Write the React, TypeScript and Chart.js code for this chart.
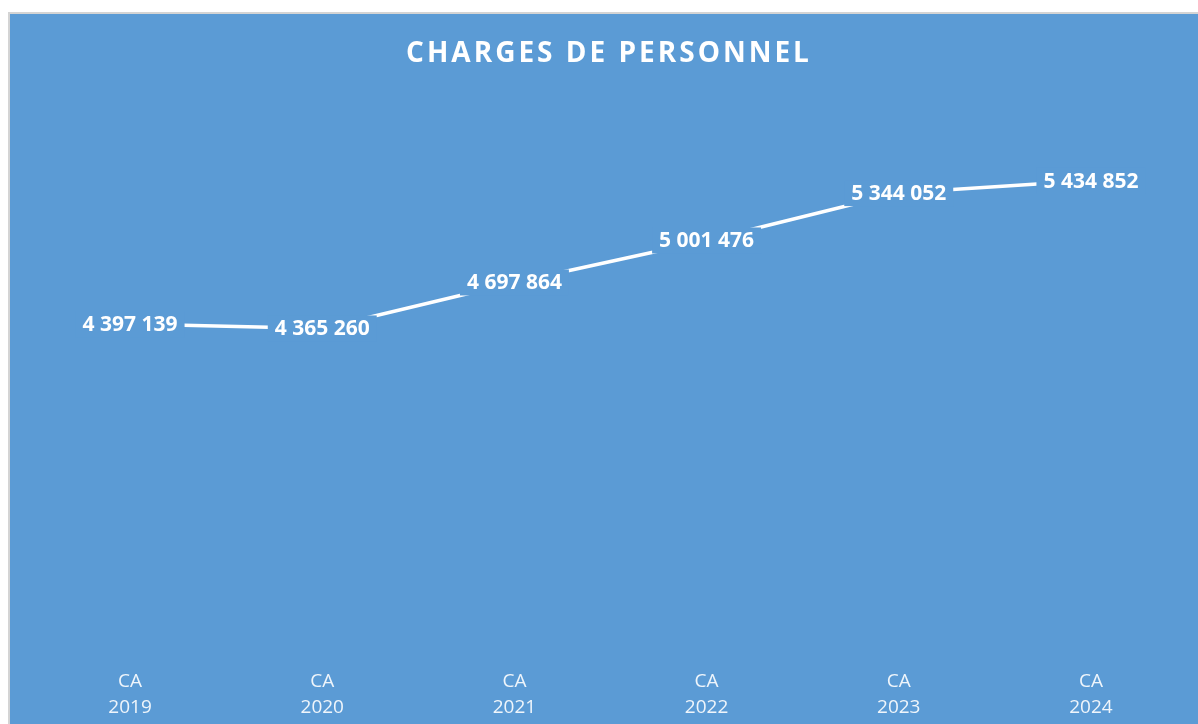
import React, { useEffect, useRef } from 'react';
import { Chart, registerables } from 'chart.js';

Chart.register(...registerables);

const TITLE = 'CHARGES DE PERSONNEL';
const categories: string[][] = [
  ['CA', '2019'],
  ['CA', '2020'],
  ['CA', '2021'],
  ['CA', '2022'],
  ['CA', '2023'],
  ['CA', '2024'],
];
const values: number[] = [4397139, 4365260, 4697864, 5001476, 5344052, 5434852];
const yMin = 2000000;
const yMax = 6000000;

const BG = '#5B9BD5';

const fmt = (v: number) => String(v).replace(/\B(?=(\d{3})+(?!\d))/g, ' ');

const overlayPlugin = {
  id: 'overlay',
  afterDatasetsDraw(chart: any) {
    const ctx = chart.ctx as CanvasRenderingContext2D;
    const meta = chart.getDatasetMeta(0);
    ctx.save();
    ctx.font = 'bold 21px "Open Sans"';
    ctx.textAlign = 'center';
    ctx.textBaseline = 'middle';
    meta.data.forEach((pt: any, i: number) => {
      const t = fmt(values[i]);
      const w = ctx.measureText(t).width;
      ctx.fillStyle = BG;
      ctx.fillRect(pt.x - w / 2 - 7, pt.y - 13, w + 14, 26);
      ctx.fillStyle = '#ffffff';
      ctx.fillText(t, pt.x, pt.y + 1);
    });
    ctx.restore();

    ctx.save();
    ctx.font = 'bold 28px "Open Sans"';
    (ctx as any).letterSpacing = '3px';
    ctx.textAlign = 'center';
    ctx.textBaseline = 'middle';
    ctx.fillStyle = '#ffffff';
    ctx.fillText(TITLE, chart.width / 2 + 5, 40);
    ctx.restore();
  },
};

export default function App() {
  const ref = useRef<HTMLCanvasElement>(null);
  useEffect(() => {
    if (!ref.current) return;
    const chart = new Chart(ref.current, {
      type: 'line',
      data: {
        labels: categories,
        datasets: [
          {
            data: values,
            borderColor: '#ffffff',
            borderWidth: 3.5,
            pointRadius: 0,
            tension: 0,
            clip: false as any,
          },
        ],
      },
      options: {
        responsive: false,
        animation: false,
        devicePixelRatio: 1,
        layout: { padding: { top: 88.4, left: 24, right: 11, bottom: 0 } },
        plugins: {
          legend: { display: false },
          title: { display: false },
          tooltip: { enabled: false },
        },
        scales: {
          x: {
            offset: true,
            grid: { display: false, drawTicks: false },
            border: { display: false },
            ticks: {
              color: 'rgba(255,255,255,0.9)',
              font: { family: '"Open Sans"', size: 19, lineHeight: 1.38 },
              padding: 13,
              maxRotation: 0,
              autoSkip: false,
            },
            afterFit: (scale: any) => {
              scale.height = 68.5;
            },
          },
          y: {
            display: false,
            min: yMin,
            max: yMax,
          },
        },
      },
      plugins: [overlayPlugin],
    });
    return () => chart.destroy();
  }, []);

  return (
    <div
      style={{
        position: 'fixed',
        left: 8,
        top: 12,
        right: 0,
        bottom: 0,
        borderTop: '2px solid #d4d4d4',
        borderLeft: '2px solid #d4d4d4',
        background: BG,
        overflow: 'hidden',
      }}
    >
      <canvas ref={ref} width={1188} height={710} style={{ display: 'block' }} />
    </div>
  );
}
